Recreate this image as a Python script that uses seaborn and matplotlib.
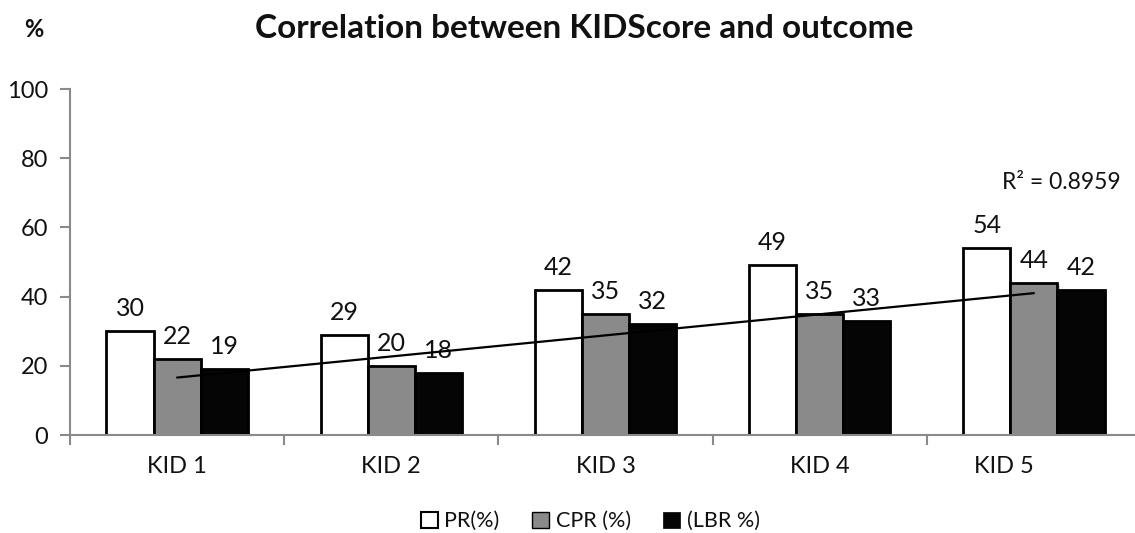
import numpy as np
import pandas as pd
import matplotlib
matplotlib.use("Agg")
import matplotlib.pyplot as plt
import matplotlib.patheffects as pe
from matplotlib.patches import Patch
from matplotlib.transforms import ScaledTranslation
import seaborn as sns

# Outcome rates per KIDScore grade
categories = ["KID 1", "KID 2", "KID 3", "KID 4", "KID 5"]
series = ["PR(%)", "CPR (%)", "(LBR %)"]
pr = [30, 29, 42, 49, 54]
cpr = [22, 20, 35, 35, 44]
lbr = [19, 18, 32, 33, 42]
r2_label = "R² = 0.8959"
y_ticks = [0, 20, 40, 60, 80, 100]

colors = {"PR(%)": "#ffffff", "CPR (%)": "#8a8a8a", "(LBR %)": "#050505"}

df = pd.DataFrame({
    "grade": categories * 3,
    "series": [s for s in series for _ in categories],
    "value": pr + cpr + lbr,
})

sns.set_style("white")
plt.rcParams["font.family"] = ["Lato", "DejaVu Sans"]
text_color = "#111111"
spine_color = "#8a8a8a"

fig = plt.figure(figsize=(11.35, 5.33), dpi=100)
ax = fig.add_axes([70 / 1135, 98 / 533, 1071 / 1135, 346 / 533])

sns.barplot(data=df, x="grade", y="value", hue="series", order=categories,
            hue_order=series, palette=colors, width=0.66, edgecolor="black",
            linewidth=2, saturation=1, errorbar=None, legend=False, ax=ax,
            zorder=2)

shadow = [pe.SimplePatchShadow(offset=(1.5, -1.5), shadow_rgbFace="#bbbbbb", alpha=0.6),
          pe.Normal()]
for patch in ax.patches:
    patch.set_path_effects(shadow)

# Value labels above each bar
for container in ax.containers:
    for bar in container:
        h = bar.get_height()
        ax.annotate(f"{h:g}", (bar.get_x() + bar.get_width() / 2, h),
                    xytext=(0, 8), textcoords="offset points",
                    ha="center", va="bottom", fontsize=18, color=text_color)

# Linear trend through the live-birth rates
xs = np.arange(len(categories))
slope, intercept = np.polyfit(xs, lbr, 1)
ax.plot([xs[0], xs[-1]], [intercept, intercept + slope * xs[-1]],
        color="black", linewidth=1.6, zorder=4)
ax.text(4.126, 73, r2_label, ha="center", va="center", fontsize=16.5,
        color=text_color)

ax.set_xlim(-0.5, 4.5)
ax.set_ylim(0, 100)
ax.set_yticks(y_ticks)
ax.set_xlabel("")
ax.set_ylabel("")

ax.tick_params(axis="y", which="major", length=7, width=1.5, color=spine_color,
               direction="out", pad=9, labelsize=17, labelcolor=text_color, left=True)
ax.tick_params(axis="x", which="major", length=0, pad=15, labelsize=17,
               labelcolor=text_color)
ax.set_xticks(np.arange(-0.5, 4.6, 1), minor=True)
ax.tick_params(axis="x", which="minor", length=7, width=1.5, color=spine_color,
               direction="out", bottom=True)

last = ax.get_xticklabels()[-1]
last.set_transform(last.get_transform() + ScaledTranslation(-0.3, 0, fig.dpi_scale_trans))

for side in ["top", "right"]:
    ax.spines[side].set_visible(False)
for side in ["left", "bottom"]:
    ax.spines[side].set_color(spine_color)
    ax.spines[side].set_linewidth(1.5)

fig.text(0.515, 0.947, "Correlation between KIDScore and outcome", ha="center",
         va="center", fontsize=24, fontweight="bold", color=text_color)
fig.text(0.03, 0.944, "%", ha="center", va="center", fontsize=17,
         fontweight="bold", color=text_color)

handles = [Patch(facecolor=colors["PR(%)"], edgecolor="black", linewidth=1.5),
           Patch(facecolor=colors["CPR (%)"], edgecolor="black", linewidth=1.0),
           Patch(facecolor=colors["(LBR %)"], edgecolor="black", linewidth=0.5)]
fig.legend(handles, series, loc="center", bbox_to_anchor=(0.52, 0.022),
           ncol=3, frameon=False, fontsize=15.5, handlelength=0.8,
           handleheight=0.8, handletextpad=0.3, columnspacing=1.5,
           labelcolor=text_color)

fig.savefig("out.png", dpi=100)
